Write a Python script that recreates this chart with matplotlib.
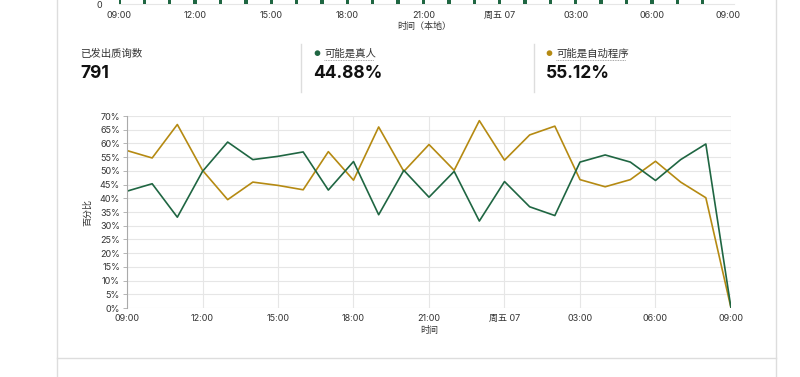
import numpy as np
import matplotlib.pyplot as plt
from matplotlib.lines import Line2D

plt.rcParams['font.family'] = ['Inter', 'Noto Sans CJK SC', 'DejaVu Sans']

W, H = 800, 377

# hours since 09:00 (Thursday) to 09:00 next day
hours = list(range(25))
human = [42.6, 45.3, 33.1, 49.8, 60.5, 54.1, 55.3, 56.9, 43.0, 53.4, 34.0, 50.2,
         40.4, 49.8, 31.7, 46.1, 36.9, 33.7, 53.2, 55.8, 53.2, 46.5, 54.1, 59.8, 0.0]
bot = [57.4, 54.7, 66.9, 50.2, 39.5, 45.9, 44.7, 43.1, 57.0, 46.6, 66.0, 49.8,
       59.6, 50.2, 68.3, 53.9, 63.1, 66.3, 46.8, 44.2, 46.8, 53.5, 45.9, 40.2, 0.0]

# hourly challenge counts (top histogram, mostly cut off)
bar_hours = list(range(24))
counts = [33, 34, 32, 33, 33, 35, 31, 33, 34, 32, 33, 33,
          32, 34, 33, 33, 32, 33, 34, 33, 32, 33, 34, 32]

tick_pos = [0, 3, 6, 9, 12, 15, 18, 21, 24]
tick_labels = ['09:00', '12:00', '15:00', '18:00', '21:00', '周五 07', '03:00', '06:00', '09:00']

total = '791'
human_pct = '44.88%'
bot_pct = '55.12%'

green = '#1f6642'
gold = '#b58a12'
grid_c = '#e6e6e6'
text_c = '#333333'


def fx(px):
    return px / W


def fy(py):
    return 1 - py / H


fig = plt.figure(figsize=(W / 100, H / 100), dpi=100)

# panel frame
fig.add_artist(Line2D([fx(57), fx(57)], [0, 1], color='#dddddd', lw=1))
fig.add_artist(Line2D([fx(776), fx(776)], [0, 1], color='#dddddd', lw=1))
fig.add_artist(Line2D([fx(57), fx(776)], [fy(358), fy(358)], color='#dddddd', lw=1))

# top histogram (cut off by the image edge)
axt = fig.add_axes([fx(119), fy(4), fx(728) - fx(119), 80 / H])
axt.bar(bar_hours, counts, width=0.13, color=green)
axt.set_xlim(0, 24)
axt.set_ylim(0, 40)
axt.set_yticks([0])
axt.set_yticklabels(['0'])
axt.set_xticks(tick_pos)
axt.set_xticklabels(tick_labels)
axt.tick_params(axis='both', length=0, labelsize=6.5, colors=text_c, pad=5)
axt.tick_params(axis='y', pad=12)
for s in axt.spines.values():
    s.set_visible(False)
axt.axhline(0, color=grid_c, lw=0.8, xmin=0, xmax=1.01, clip_on=False, zorder=0)
fig.text(fx(424), fy(27), '时间（本地）', ha='center', va='center', fontsize=6.5, color=text_c)

# summary stats
fig.text(fx(80), fy(54), '已发出质询数', ha='left', va='center', fontsize=7.5, color=text_c)
fig.text(fx(80), fy(73), total, ha='left', va='center', fontsize=12.5, fontweight='bold', color='#111111')
fig.add_artist(Line2D([fx(301), fx(301)], [fy(44), fy(92)], color='#dddddd', lw=1))
fig.add_artist(Line2D([fx(534), fx(534)], [fy(44), fy(92)], color='#dddddd', lw=1))
fig.text(fx(313), fy(54), '●', ha='left', va='center', fontsize=5.5, color=green)
fig.text(fx(324), fy(54), '可能是真人', ha='left', va='center', fontsize=7.5, color=text_c)
fig.text(fx(313), fy(73), human_pct, ha='left', va='center', fontsize=12.5, fontweight='bold', color='#111111')
fig.text(fx(545), fy(54), '●', ha='left', va='center', fontsize=5.5, color=gold)
fig.text(fx(556), fy(54), '可能是自动程序', ha='left', va='center', fontsize=7.5, color=text_c)
fig.text(fx(546), fy(73), bot_pct, ha='left', va='center', fontsize=12.5, fontweight='bold', color='#111111')
# dotted underlines
fig.add_artist(Line2D([fx(324), fx(374)], [fy(60), fy(60)], color='#888888', lw=0.6, ls=(0, (1, 1))))
fig.add_artist(Line2D([fx(556), fx(626)], [fy(60), fy(60)], color='#888888', lw=0.6, ls=(0, (1, 1))))

# main percentage chart
ax = fig.add_axes([fx(127), fy(308), fx(731) - fx(127), fy(116) - fy(308)])
ax.plot(hours, bot, color=gold, lw=1.2)
ax.plot(hours, human, color=green, lw=1.2)
ax.set_xlim(0, 24)
ax.set_ylim(0, 70)
ax.set_yticks(np.arange(0, 71, 5))
ax.set_yticklabels([f'{v}%' for v in range(0, 71, 5)])
ax.set_xticks(tick_pos)
ax.set_xticklabels(tick_labels)
ax.grid(True, color=grid_c, lw=0.8)
ax.set_axisbelow(True)
for k in ['top', 'right', 'bottom']:
    ax.spines[k].set_visible(False)
ax.spines['left'].set_color('#aaaaaa')
ax.spines['left'].set_linewidth(0.8)
ax.tick_params(axis='y', length=3, width=0.6, color='#aaaaaa', labelsize=6.5, colors=text_c, pad=2)
ax.tick_params(axis='x', length=0, labelsize=6.5, colors=text_c, pad=4)
fig.text(fx(88), fy(212), '百分比', ha='center', va='center', rotation=90, fontsize=6.5, color=text_c)
fig.text(fx(429), fy(331), '时间', ha='center', va='center', fontsize=6.5, color=text_c)

fig.savefig('out.png', dpi=100)
